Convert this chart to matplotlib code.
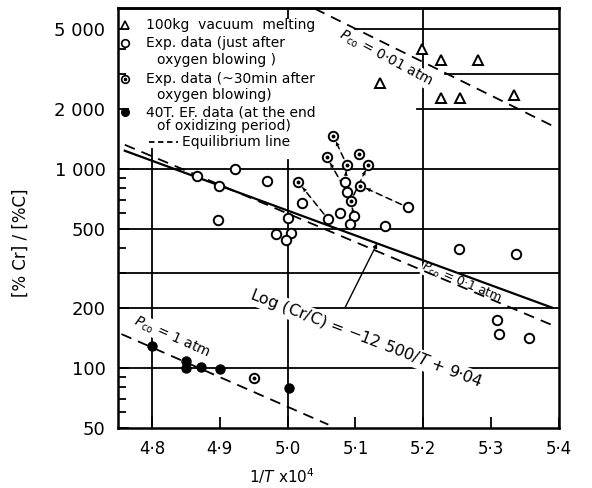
import matplotlib
matplotlib.use("Agg")
import matplotlib.pyplot as plt
import numpy as np

plt.rcParams['font.family'] = ['DejaVu Sans']

# 100 kg vacuum melting
vac_x = [5.198, 5.226, 5.281, 5.136, 5.226, 5.254, 5.334]
vac_y = [4000, 3500, 3500, 2700, 2250, 2250, 2350]

# Experimental data just after oxygen blowing
exp0_x = [4.866, 4.922, 4.899, 4.970, 4.898, 5.000, 4.983, 5.005, 4.997, 5.021,
          5.060, 5.085, 5.087, 5.077, 5.098, 5.092, 5.143, 5.177,
          5.253, 5.337, 5.308, 5.312, 5.356]
exp0_y = [915, 1000, 822, 864, 551, 567, 468, 473, 438, 674,
          556, 858, 765, 600, 578, 525, 514, 640,
          394, 375, 174, 148, 142]

# Experimental data ~30 min after oxygen blowing
exp30_x = [5.067, 5.058, 5.105, 5.087, 5.119, 5.107, 5.093, 5.016, 4.951]
exp30_y = [1467, 1139, 1184, 1047, 1047, 822, 686, 854, 89]

# 40 T electric furnace, end of oxidizing period
ef_x = [4.800, 4.850, 4.850, 4.872, 4.901, 5.002]
ef_y = [129, 108, 100, 101.5, 99, 79]

# change of composition after blowing: (x0, y0) -> (x1, y1)
shift_from_x = [5.060, 5.087, 5.177, 5.085, 5.087, 5.098, 5.093]
shift_from_y = [556, 765, 640, 858, 1047, 578, 686]
shift_to_x = [5.016, 5.058, 5.107, 5.087, 5.067, 5.093, 5.119]
shift_to_y = [854, 1139, 822, 1047, 1467, 686, 1047]

# Equilibrium lines for fixed CO pressure (end points)
pco_labels = ["0·01", "0·1", "1"]
pco_x = [[5.040, 5.397], [4.760, 5.394], [4.755, 5.060]]
pco_y = [[6350, 1600], [1318, 162], [148, 52]]

# log(Cr/C) = -12500/T + 9.04,  x = 1e4/T
eq_a, eq_b = -12500, 9.04
eq_x = [4.76, 5.39]

xticks = [4.8, 4.9, 5.0, 5.1, 5.2, 5.3, 5.4]
xticklabels = ["4·8", "4·9", "5·0", "5·1", "5·2", "5·3", "5·4"]
yticks = [50, 100, 200, 500, 1000, 2000, 5000]
yticklabels = ["50", "100", "200", "500", "1 000", "2 000", "5 000"]

fig = plt.figure(figsize=(5.92, 4.88), dpi=100)
ax = fig.add_axes([118/592, 1-428/488, 441/592, 420/488])
ax.set_yscale('log')
ax.set_xlim(4.75, 5.4)
ax.set_ylim(50, 6400)

lw_grid = 1.3
# horizontal rules
hlines = [(5000, 5.10, 5.4), (3000, 5.232, 5.4), (2000, 5.191, 5.4),
          (1000, 4.75, 5.4), (500, 4.75, 5.4), (300, 4.75, 5.4),
          (200, 4.75, 5.4), (100, 4.75, 5.4)]
for yv, x0, x1 in hlines:
    ax.plot([x0, x1], [yv, yv], color='k', lw=lw_grid, zorder=1)
vlines = [(4.8, 50, 1250), (5.0, 50, 1100), (5.2, 50, 6400)]
for xv, y0, y1 in vlines:
    ax.plot([xv, xv], [y0, y1], color='k', lw=lw_grid, zorder=1)

# equilibrium lines
ex = np.array(eq_x)
ax.plot(ex, 10 ** (eq_a * ex / 1e4 + eq_b), color='k', lw=1.6, zorder=2)
for xs, ys in zip(pco_x, pco_y):
    ax.plot(xs, ys, color='k', lw=1.3, ls=(0, (6, 4)), zorder=2)

# composition shifts
for x0, y0, x1, y1 in zip(shift_from_x, shift_from_y, shift_to_x, shift_to_y):
    ax.annotate('', xy=(x1, y1), xytext=(x0, y0),
                arrowprops=dict(arrowstyle='-', ls=(0, (4, 3)), lw=1.1,
                                color='k', shrinkA=5, shrinkB=5), zorder=3)
    ax.annotate('', xy=(x1, y1), xytext=(x0, y0),
                arrowprops=dict(arrowstyle='-|>', lw=0.1, color='k',
                                shrinkA=0, shrinkB=5, mutation_scale=7), zorder=3)

mk = dict(ls='none', zorder=4)
ax.plot(vac_x, vac_y, marker='^', ms=6.5, mfc='white', mec='k', mew=1.4, **mk)
ax.plot(exp0_x, exp0_y, marker='o', ms=6.8, mfc='white', mec='k', mew=1.4, **mk)
ax.plot(exp30_x, exp30_y, marker='o', ms=6.8, mfc='white', mec='k', mew=1.4, **mk)
ax.plot(exp30_x, exp30_y, marker='o', ms=1.8, mfc='k', mec='k', **mk)
ax.plot(ef_x, ef_y, marker='o', ms=6.5, mfc='k', mec='k', **mk)

# line labels (drawn under the lines so the lines stay visible)
tb = dict(facecolor='white', edgecolor='none', pad=0.3)
ax.text(5.144, 3590, r"$P_{\rm co}$ = 0·01 atm", rotation=-28, ha='center', va='center',
        rotation_mode='anchor', fontsize=10, bbox=tb, zorder=1.5)
ax.text(5.257, 266, r"$P_{\rm co}$ = 0·1 atm", rotation=-23, ha='center', va='center',
        rotation_mode='anchor', fontsize=9, bbox=dict(facecolor='white', edgecolor='none', pad=0),
        zorder=1.5)
ax.text(4.8295, 143, r"$P_{\rm co}$ = 1 atm", rotation=-24, ha='center', va='center',
        rotation_mode='anchor', fontsize=10, bbox=tb, zorder=1.5)
ax.text(5.116, 140, r"Log (Cr/C) = $-$12 500/$T$ + 9·04", rotation=-21, ha='center',
        va='center', rotation_mode='anchor', fontsize=11.5, bbox=tb, zorder=1.5)
ax.annotate('', xy=(5.132, 422), xytext=(5.085, 202),
            arrowprops=dict(arrowstyle='-|>', lw=1.0, color='k', mutation_scale=6,
                            shrinkA=0, shrinkB=0), zorder=3)

# legend
lx_m, lx_t, lx_c = 4.760, 4.792, 4.808
ax.plot([lx_m], [5255], marker='^', ms=5.5, mfc='white', mec='k', mew=1.2, clip_on=False, **mk)
ax.plot([lx_m], [4266], marker='o', ms=5.5, mfc='white', mec='k', mew=1.2, clip_on=False, **mk)
ax.plot([lx_m], [2818], marker='o', ms=5.5, mfc='white', mec='k', mew=1.2, clip_on=False, **mk)
ax.plot([lx_m], [2818], marker='o', ms=1.5, mfc='k', mec='k', clip_on=False, **mk)
ax.plot([lx_m], [1922], marker='o', ms=5.5, mfc='k', mec='k', clip_on=False, **mk)
ax.plot([4.795, 4.838], [1360, 1360], color='k', lw=1.3, ls=(0, (3, 2)), zorder=6)
lt = dict(fontsize=10, va='center', ha='left', zorder=5)
ax.text(lx_t, 5255, "100kg  vacuum  melting", **lt)
ax.text(lx_t, 4266, "Exp. data (just after", **lt)
ax.text(lx_c, 3506, "oxygen blowing )", **lt)
ax.text(lx_t, 2818, "Exp. data (~30min after", **lt)
ax.text(lx_c, 2339, "oxygen blowing)", **lt)
ax.text(lx_t, 1922, "40T. EF. data (at the end", **lt)
ax.text(lx_c, 1637, "of oxidizing period)", **lt)
ax.text(4.845, 1360, "Equilibrium line", **lt)

# axes and ticks
ax.set_xticks(xticks)
ax.set_xticklabels(xticklabels, fontsize=12)
ax.set_yticks(yticks)
ax.set_yticklabels(yticklabels, fontsize=13)
ax.yaxis.set_minor_locator(matplotlib.ticker.FixedLocator(
    [60, 70, 80, 90, 300, 400, 600, 700, 800, 900, 3000, 4000]))
ax.yaxis.set_minor_formatter(matplotlib.ticker.NullFormatter())
ax.tick_params(axis='both', which='major', direction='in', length=8, width=1.3, pad=9)
ax.tick_params(axis='y', which='minor', direction='in', length=6, width=1.3)
top = ax.secondary_xaxis('top')
top.set_xticks([5.0])
top.set_xticklabels([])
top.tick_params(direction='in', length=8, width=1.3)
top.spines['top'].set_linewidth(1.8)
for s in ax.spines.values():
    s.set_linewidth(1.8)

ax.set_xlabel(r"1/$T$ x10$^{4}$", fontsize=11)
ax.xaxis.set_label_coords(0.372, -0.09)
ax.set_ylabel("[% Cr] / [%C]", fontsize=12)
ax.yaxis.set_label_coords(-0.20, 0.44)

fig.savefig("out.png", dpi=100)
